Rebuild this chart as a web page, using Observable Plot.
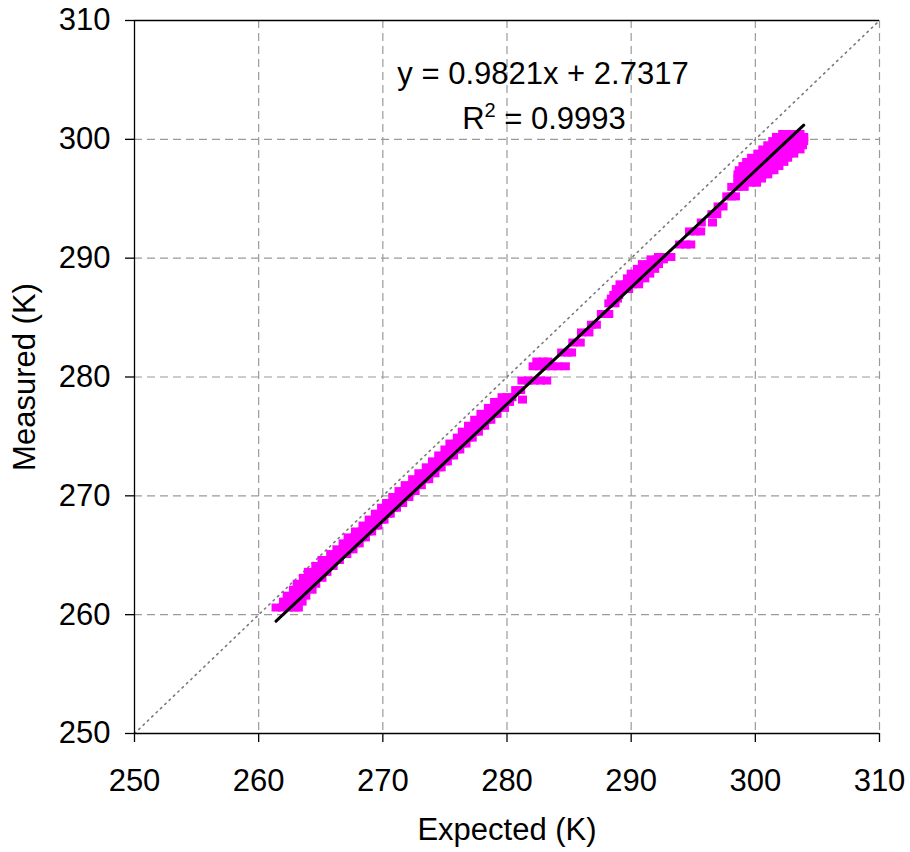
<!DOCTYPE html>
<html>
<head>
<meta charset="utf-8">
<script src="https://cdn.jsdelivr.net/npm/d3@7"></script>
<script src="https://cdn.jsdelivr.net/npm/@observablehq/plot@0.6"></script>
<style>
  html, body { margin: 0; padding: 0; background: #fff; }
  #chart { width: 910px; height: 852px; }
</style>
</head>
<body>
<div id="chart"></div>
<script>
// Tick values
const xTicks = [250, 260, 270, 280, 290, 300, 310];
const yTicks = [250, 260, 270, 280, 290, 300, 310];

// Trendline (as printed on the chart)
const slope = 0.9821;
const intercept = 2.7317;
const eqText = "y = 0.9821x + 2.7317";
const r2Text = "R2 = 0.9993";
const xTitle = "Expected (K)";
const yTitle = "Measured (K)";

// Data rows: [measured, [expected values at that measured level]]
const lowerBand = [
  [260.6, [261.4, 261.9, 262.4, 262.9, 263.2]],
  [261.1, [262.0, 262.5, 263.0, 263.5]],
  [261.6, [262.3, 262.8, 263.3, 263.8]],
  [262.1, [262.8, 263.3, 263.8, 264.3]],
  [262.6, [263.1, 263.6, 264.1, 264.6]],
  [263.1, [263.6, 264.1, 264.6, 265.1]],
  [263.6, [264.0, 264.5, 265.0, 265.5]],
  [264.1, [264.6, 265.1, 265.6, 266.0]],
  [264.6, [265.1, 265.6, 266.1, 266.5]],
  [265.1, [265.8, 266.3, 266.8, 267.1]],
  [265.5, [266.3, 266.8, 267.3, 267.6]],
  [266.0, [266.8, 267.3, 267.8, 268.1]],
  [266.5, [267.2, 267.7, 268.2, 268.6]],
  [267.0, [267.8, 268.3, 268.8, 269.1]],
  [267.5, [268.4, 268.9, 269.4, 269.6]],
  [268.0, [268.9, 269.4, 269.9, 270.1]],
  [268.5, [269.4, 269.9, 270.4, 270.6]],
  [269.0, [269.9, 270.4, 270.9, 271.1]],
  [269.4, [270.3, 270.8, 271.3, 271.6]],
  [269.9, [270.8, 271.3, 271.8, 272.1]],
  [270.4, [271.3, 271.8, 272.3, 272.6]],
  [270.9, [271.8, 272.3, 272.8, 273.1]],
  [271.4, [272.4, 272.9, 273.4, 273.7]],
  [271.9, [272.9, 273.4, 273.9, 274.2]],
  [272.4, [273.5, 274.0, 274.5, 274.7]],
  [272.9, [274.0, 274.5, 275.0, 275.2]],
  [273.4, [274.5, 275.0, 275.4, 275.7]],
  [273.9, [275.0, 275.5, 275.9, 276.2]],
  [274.4, [275.4, 275.9, 276.4, 276.7]],
  [274.9, [276.0, 276.5, 276.9, 277.2]],
  [275.4, [276.4, 276.9, 277.4, 277.7]],
  [275.9, [276.9, 277.4, 277.9, 278.2]],
  [276.4, [277.4, 277.9, 278.4, 278.7]],
  [276.9, [277.9, 278.4, 278.9, 279.2]],
  [277.4, [278.5, 279.0, 279.4, 279.8]],
  [277.9, [279.0, 279.5, 279.9, 280.2]],
  [278.3, [279.6, 280.0, 280.4]]
];

const middleBand = [
  [278.1, [281.25]],
  [278.9, [280.7, 281.1]],
  [279.7, [281.2, 281.7, 282.2, 282.7, 283.2]],
  [280.9, [282.1, 282.6, 283.1, 283.6, 284.1, 284.7]],
  [281.3, [282.4, 282.9, 283.3]],
  [282.06, [284.4, 284.9, 285.2]],
  [282.9, [285.3, 285.9]],
  [283.75, [286.0, 286.6]],
  [284.4, [286.8, 287.2]],
  [285.3, [287.6, 288.2]],
  [286.2, [288.2, 288.7]],
  [286.6, [288.4, 288.9]],
  [286.9, [288.6, 289.0]],
  [287.4, [288.8, 289.3, 289.8]],
  [287.8, [289.1, 289.6, 290.1, 290.6]],
  [288.3, [289.7, 290.2, 290.7, 291.1]],
  [288.7, [290.0, 290.5, 291.0, 291.5]],
  [289.1, [290.5, 291.0, 291.5, 291.9]],
  [289.5, [290.9, 291.4, 291.9, 292.2]],
  [289.9, [291.6, 292.1, 292.6]],
  [290.1, [292.2, 292.8, 293.2]],
  [291.15, [293.9, 294.4, 294.8]],
  [292.25, [294.7, 295.2, 295.6]],
  [293.0, [295.65, 296.55]],
  [293.7, [296.5, 296.9]],
  [294.35, [297.0, 297.4]],
  [295.2, [297.7, 298.1, 298.4]],
  [296.0, [298.1, 298.6, 299.1]]
];

const upperCluster = [
  [296.35, [298.6, 299.1, 299.6, 300.1]],
  [296.7, [298.6, 299.1, 299.6, 300.1, 300.5]],
  [297.05, [298.6, 299.1, 299.6, 300.1, 300.6, 301.0]],
  [297.4, [298.7, 299.2, 299.7, 300.2, 300.7, 301.1, 301.5]],
  [297.75, [299.0, 299.5, 300.0, 300.5, 301.0, 301.5, 301.9]],
  [298.1, [299.3, 299.8, 300.3, 300.8, 301.3, 301.8, 302.3]],
  [298.45, [299.7, 300.2, 300.7, 301.2, 301.7, 302.2, 302.6]],
  [298.8, [300.2, 300.7, 301.2, 301.7, 302.2, 302.7, 303.1]],
  [299.15, [300.6, 301.1, 301.6, 302.1, 302.6, 303.1, 303.6]],
  [299.5, [301.0, 301.5, 302.0, 302.5, 303.0, 303.4, 303.8]],
  [299.85, [301.4, 301.9, 302.4, 302.9, 303.4, 303.9]],
  [300.2, [301.7, 302.2, 302.7, 303.2, 303.6, 303.9]],
  [300.45, [302.2, 302.7, 303.2, 303.6]]
];

// Build a flat point table from the rows
const points = [];
for (const rows of [lowerBand, middleBand, upperCluster]) {
  for (const [m, exps] of rows) {
    for (const e of exps) points.push({expected: e, measured: m});
  }
}

// Trendline spans the data's expected range
const xExt = d3.extent(points, d => d.expected);
const fitLine = xExt.map(x => ({x, y: slope * x + intercept}));
const identity = [{x: xTicks[0], y: yTicks[0]}, {x: xTicks[xTicks.length - 1], y: yTicks[yTicks.length - 1]}];

// Rectangular marker (Excel-like square marker)
const rectSymbol = {
  draw(ctx) {
    const w = 9, h = 8;
    ctx.moveTo(-w / 2, -h / 2);
    ctx.lineTo(w / 2, -h / 2);
    ctx.lineTo(w / 2, h / 2);
    ctx.lineTo(-w / 2, h / 2);
    ctx.closePath();
  }
};

const font = "'Liberation Sans', Arial, Helvetica, sans-serif";
const fs = 31;

const chart = Plot.plot({
  width: 910,
  height: 852,
  marginLeft: 134,
  marginRight: 31,
  marginTop: 20,
  marginBottom: 119,
  style: {fontFamily: font, fontSize: fs + "px", background: "#fff", color: "#000"},
  x: {domain: [xTicks[0], xTicks[xTicks.length - 1]]},
  y: {domain: [yTicks[0], yTicks[yTicks.length - 1]]},
  marks: [
    Plot.gridX(xTicks.slice(1), {stroke: "#9a9a9a", strokeOpacity: 1, strokeWidth: 1.2, strokeDasharray: "8,5"}),
    Plot.gridY(yTicks.slice(1, -1), {stroke: "#9a9a9a", strokeOpacity: 1, strokeWidth: 1.2, strokeDasharray: "8,5"}),
    Plot.line(identity, {x: "x", y: "y", stroke: "#7a7a7a", strokeWidth: 1.6, strokeDasharray: "1.5,4.5", strokeLinecap: "round"}),
    Plot.dot(points, {x: "expected", y: "measured", symbol: rectSymbol, fill: "#ff00ff", stroke: "none"}),
    Plot.line(fitLine, {x: "x", y: "y", stroke: "#000", strokeWidth: 3}),
    Plot.ruleX([xTicks[0]], {stroke: "#000", strokeWidth: 1.3}),
    Plot.ruleY([yTicks[0]], {stroke: "#000", strokeWidth: 1.3}),
    Plot.ruleY([yTicks[yTicks.length - 1]], {stroke: "#000", strokeWidth: 1.3}),
    Plot.axisX(xTicks, {tickSize: 9, tickPadding: 26, fontSize: fs, label: null, strokeWidth: 1.3}),
    Plot.axisY(yTicks, {tickSize: 9, tickPadding: 15, fontSize: fs, label: null, strokeWidth: 1.3}),
    Plot.text([xTitle], {frameAnchor: "bottom", dy: 97, fontSize: fs, fill: "#000", textAnchor: "middle", lineAnchor: "middle"}),
    Plot.text([yTitle], {frameAnchor: "left", rotate: -90, dx: -109, fontSize: fs, fill: "#000", textAnchor: "middle", lineAnchor: "middle"}),
    Plot.text([eqText], {frameAnchor: "top", dx: 36, dy: 54, fontSize: fs, fill: "#000", textAnchor: "middle", lineAnchor: "middle"}),
    Plot.text([r2Text], {frameAnchor: "top", dx: 37, dy: 99, fontSize: fs, fill: "#000", textAnchor: "middle", lineAnchor: "middle"})
  ]
});

document.getElementById("chart").appendChild(chart);

// Superscript the "2" in R2
d3.select(chart).selectAll("text").each(function () {
  if (this.textContent === r2Text) {
    const t = d3.select(this);
    t.text(null);
    t.append("tspan").text("R");
    t.append("tspan").attr("dy", "-12").attr("font-size", 20).text("2");
    t.append("tspan").attr("dy", "12").text(" = 0.9993");
  }
});
</script>
</body>
</html>
